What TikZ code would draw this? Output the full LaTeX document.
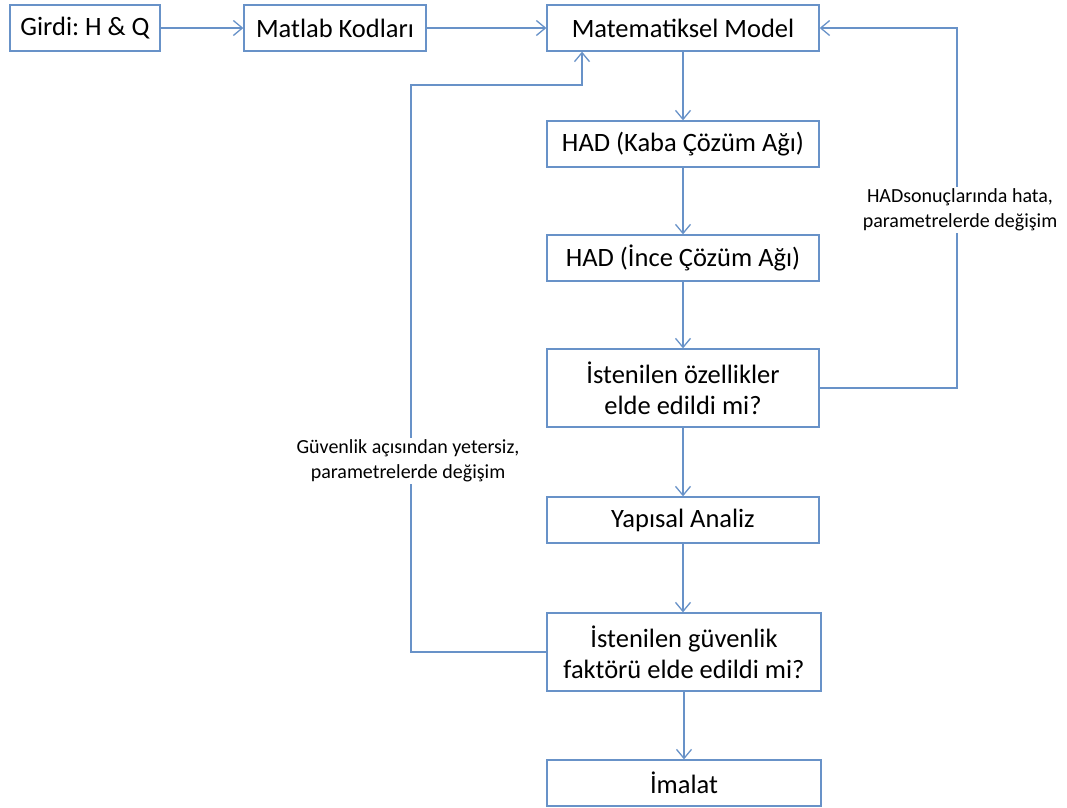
\documentclass[tikz,border=0pt]{standalone}
\usepackage{fontspec}
\setmainfont{Carlito}
\usepackage{tikz}
\usetikzlibrary{arrows.meta, positioning}
\frenchspacing

\begin{document}
\begin{tikzpicture}[
    % GLOBAL CFG
    x=1pt, y=-1pt,
    font=\fontsize{26.5}{31}\selectfont,
    >={Straight Barb[length=9pt,width=15pt,line width=1.3pt]},
    % Styles
    step box/.style={% For the process boxes
        rectangle,
        draw=flowblue,
        line width=1.3pt,
        minimum height=46pt,
        align=center,
        inner sep=2pt,
        },
    ask box/.style={% For the questions
        step box,
        minimum height=78pt,
        },
    note/.style={% For the labels on the loops
        fill=white,
        align=center,
        inner sep=2pt,
        font=\fontsize{20}{25}\selectfont,
        },
    flow/.style={% Connectors
        draw=flowblue,
        line width=1.3pt,
        },
    ]
\definecolor{flowblue}{RGB}{104,146,200}

\useasboundingbox (0,0) rectangle (1067,807);

    % Draw the top row
    \node [step box, minimum width=150pt] (girdi) at (85,28) {Girdi: H \& Q};
    \node [step box, minimum width=182pt] (matlab) at (335,28) {Matlab Kodları};
    \node [step box, minimum width=272pt] (model) at (683,28) {Matematiksel Model};

    % Draw the main column
    \node [step box, minimum width=272pt] (kaba) at (683,144) {HAD (Kaba Çözüm Ağı)};
    \node [step box, minimum width=272pt] (ince) at (683,258) {HAD (İnce Çözüm Ağı)};
    \node [ask box, minimum width=272pt] (ozellik) at (683,388) {İstenilen özellikler\\elde edildi mi?};
    \node [step box, minimum width=272pt] (yapisal) at (683,520) {Yapısal Analiz};
    \node [ask box, minimum width=274pt] (guven) at (684,652) {İstenilen güvenlik\\faktörü elde edildi mi?};
    \node [step box, minimum width=274pt] (imalat) at (684,783) {İmalat};

    % Corners of the loops
    \coordinate (r1) at (957,388);
    \coordinate (l1) at (411,652);
    \coordinate (l2) at (582,85);

% Start connecting all.
    \draw [->, flow] (girdi) -- (matlab);
    \draw [->, flow] (matlab) -- (model);
    \draw [->, flow] (model) -- (kaba);
    \draw [->, flow] (kaba) -- (ince);
    \draw [->, flow] (ince) -- (ozellik);
    \draw [->, flow] (ozellik.south -| yapisal.north) -- (yapisal);
    \draw [->, flow] (yapisal) -- (guven.north -| yapisal.north);
    \draw [->, flow] (guven) -- (imalat);

    % Loops back to the model
    \draw [->, flow] (ozellik.east) -- (r1) |- (model.east);
    \draw [->, flow] (guven.west) -- (l1) |- (l2) -- (l2 |- model.south);

    % Loop labels
    \node [note] (lblhad) at (960,210) {HADsonuçlarında hata,\\parametrelerde değişim};
    \node [note] (lblguven) at (408,461) {Güvenlik açısından yetersiz,\\parametrelerde değişim};

\end{tikzpicture}
\end{document}
